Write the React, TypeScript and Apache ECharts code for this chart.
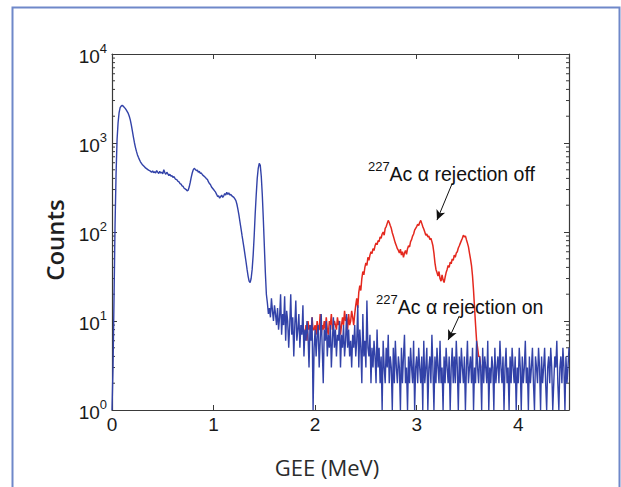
import React, { useEffect, useRef } from "react";
import * as echarts from "echarts";

// Energy binning (MeV)
const BIN = 0.01;
const blueLowStart = 0.0;
const blueTailStart = 1.53;
const redStart = 1.9;

// 227Ac alpha rejection ON (blue) – low-energy part, 0.00–1.52 MeV
const blueLow = [
  1, 3, 18, 120, 450, 1100, 1700, 2200, 2500, 2600,
  2650, 2600, 2520, 2450, 2350, 2250, 2150, 2000, 1820, 1600,
  1380, 1180, 1020, 900, 810, 740, 690, 650, 615, 590,
  570, 555, 540, 525, 515, 505, 495, 490, 480, 470,
  485, 465, 475, 460, 490, 470, 455, 480, 460, 470,
  450, 500, 465, 445, 470, 450, 430, 445, 425, 430,
  410, 420, 400, 390, 385, 370, 365, 350, 345, 330,
  325, 310, 305, 300, 290, 295, 320, 360, 410, 460,
  500, 520, 505, 490, 495, 470, 480, 455, 460, 440,
  430, 420, 410, 395, 390, 365, 350, 340, 320, 310,
  300, 290, 280, 265, 250, 255, 240, 250, 260, 245,
  255, 270, 260, 280, 265, 275, 260, 265, 255, 250,
  245, 235, 225, 205, 180, 155, 130, 110, 92, 78,
  66, 55, 46, 38, 32, 28, 27, 30, 38, 55,
  90, 160, 260, 400, 520, 590, 560, 420, 260, 140,
  70, 35, 20,
];

// 227Ac alpha rejection ON (blue) – noisy tail, 1.53–4.50 MeV
const blueTail = [
  16, 12, 14, 11, 18, 13, 10, 15, 12, 9,
  14, 8, 11, 20, 7, 12, 9, 19, 6, 13,
  10, 5, 9, 20, 7, 11, 4, 9, 17, 6,
  8, 12, 5, 9, 7, 15, 4, 8, 6, 10,
  7, 3, 9, 6, 11, 1, 5, 8, 4, 7,
  9, 3, 6, 12, 5, 2, 8, 6, 10, 4,
  7, 5, 9, 3, 6, 11, 5, 8, 4, 7,
  6, 10, 3, 7, 5, 9, 4, 6, 12, 5,
  8, 4, 6, 3, 7, 5, 9, 4, 6, 15,
  3, 8, 5, 2, 12, 4, 6, 3, 17, 5,
  4, 7, 2, 5, 3, 6, 4, 2, 8, 3,
  5, 2, 4, 1, 6, 3, 2, 5, 3, 7,
  2, 4, 3, 1, 5, 2, 6, 3, 2, 4,
  3, 1, 5, 2, 4, 7, 2, 3, 1, 4,
  2, 5, 3, 2, 6, 1, 3, 4, 2, 5,
  3, 2, 4, 1, 6, 2, 3, 5, 1, 3,
  4, 2, 7, 3, 1, 4, 2, 5, 3, 2,
  6, 2, 3, 1, 4, 2, 5, 3, 2, 4,
  1, 3, 5, 2, 4, 2, 6, 3, 1, 4,
  2, 5, 3, 2, 4, 1, 3, 6, 2, 3,
  4, 2, 5, 1, 3, 2, 6, 3, 2, 4,
  3, 1, 5, 2, 4, 3, 2, 6, 1, 3,
  2, 4, 3, 1, 5, 2, 3, 4, 2, 6,
  3, 2, 4, 1, 3, 5, 2, 3, 1, 4,
  2, 5, 3, 2, 4, 1, 3, 2, 5, 3,
  1, 4, 2, 3, 6, 2, 3, 1, 4, 2,
  3, 5, 2, 1, 4, 3, 2, 5, 3, 1,
  4, 2, 3, 5, 2, 1, 3, 4, 2, 5,
  3, 1, 2, 4, 3, 6, 2, 1, 3, 4,
  2, 5, 3, 1, 4, 2, 3, 5,
];

// 227Ac alpha rejection OFF (red), 1.90–3.63 MeV
const redOff = [
  7, 9, 6, 10, 8, 9, 7, 11, 8, 8,
  9, 7, 10, 8, 8, 12, 7, 9, 8, 10,
  8, 11, 8, 7, 10, 9, 12, 8, 9, 10,
  9, 8, 11, 9, 10, 7, 9, 11, 9, 13,
  10, 11, 8, 12, 9, 10, 13, 11, 9, 12,
  15, 18, 14, 21, 25, 22, 30, 36, 33, 40,
  45, 42, 52, 48, 55, 60, 57, 65, 62, 70,
  75, 72, 80, 78, 88, 85, 95, 100, 92, 110,
  115, 125, 135, 128, 118, 110, 98, 90, 82, 75,
  70, 65, 62, 58, 64, 55, 60, 52, 58, 62,
  56, 65, 70, 68, 78, 82, 90, 95, 105, 110,
  115, 122, 118, 128, 135, 125, 115, 108, 100, 92,
  95, 88, 90, 82, 85, 78, 70, 58, 45, 38,
  35, 32, 36, 30, 28, 33, 29, 27, 31, 35,
  38, 42, 40, 46, 44, 50, 48, 55, 52, 58,
  60, 66, 70, 75, 80, 85, 92, 88, 90, 82,
  75, 68, 58, 50, 42, 32, 22, 14, 9, 6,
  5, 4, 4, 3,
];

const xTicks = [0, 1, 2, 3, 4];
const decades = [1, 10, 100, 1000];
const minorMultipliers = [2, 3, 4, 5, 6, 7, 8, 9];

const toPairs = (start: number, vals: number[]) =>
  vals.map((v, i) => [+(start + i * BIN).toFixed(2), v]);

const FONT = "'Liberation Sans', Arial, sans-serif";

export default function App() {
  const ref = useRef<HTMLDivElement>(null);

  useEffect(() => {
    document.body.style.margin = "0";
    const chart = echarts.init(ref.current!, undefined, { renderer: "svg" });
    const blueData = [...toPairs(blueLowStart, blueLow), ...toPairs(blueTailStart, blueTail)];
    const redData = toPairs(redStart, redOff);
    const minorData: number[][] = [];
    decades.forEach((d) => minorMultipliers.forEach((m) => minorData.push([0, d * m])));

    const axisColor = "#3a3a3a";
    const yLabelRich = {
      b: { fontSize: 19, fontFamily: FONT, color: "#1a1a1a", lineHeight: 24, verticalAlign: "bottom" },
      e: { fontSize: 13, fontFamily: FONT, color: "#1a1a1a", lineHeight: 24, verticalAlign: "top" },
    };
    const annRich = {
      s: { fontSize: 13, fontFamily: FONT, color: "#111", lineHeight: 24, verticalAlign: "top" },
      t: { fontSize: 19.5, fontFamily: FONT, color: "#111", lineHeight: 24, verticalAlign: "bottom" },
    };

    chart.setOption({
      animation: false,
      backgroundColor: "#ffffff",
      grid: { left: 112, right: 52, top: 54, bottom: 77, containLabel: false },
      graphic: [
        {
          type: "rect",
          shape: { x: 12.5, y: 7.5, width: 607, height: 500 },
          style: { fill: "none", stroke: "#6f88c9", lineWidth: 2 },
          silent: true,
          z: 0,
        },
      ],
      xAxis: [
        {
          type: "value",
          min: 0,
          max: 4.5,
          interval: 1,
          position: "bottom",
          name: "GEE (MeV)",
          nameLocation: "middle",
          nameGap: 46,
          nameTextStyle: {
            fontFamily: "'Open Sans', sans-serif",
            fontSize: 22,
            color: "#2b2b2b",
            padding: [0, 27, 0, 0],
          },
          axisLine: { show: true, onZero: false, lineStyle: { color: axisColor, width: 1.2 } },
          axisTick: { show: true, inside: true, length: 5, lineStyle: { color: axisColor } },
          axisLabel: {
            fontFamily: FONT,
            fontSize: 19,
            color: "#1a1a1a",
            margin: 5,
            formatter: (v: number) => (xTicks.includes(v) ? String(v) : ""),
          },
          splitLine: { show: false },
        },
        {
          type: "value",
          min: 0,
          max: 4.5,
          interval: 1,
          position: "top",
          axisLine: { show: true, onZero: false, lineStyle: { color: axisColor, width: 1.2 } },
          axisTick: { show: true, inside: true, length: 5, lineStyle: { color: axisColor } },
          axisLabel: { show: false },
          splitLine: { show: false },
        },
      ],
      yAxis: [
        {
          type: "log",
          logBase: 10,
          min: 1,
          max: 10000,
          position: "left",
          name: "Counts",
          nameLocation: "middle",
          nameGap: 46,
          nameRotate: 90,
          nameTextStyle: {
            fontFamily: "'Open Sans', sans-serif",
            fontWeight: 600,
            fontSize: 24,
            color: "#1f1f1f",
            padding: [0, 16, 0, 0],
          },
          axisLine: { show: true, onZero: false, lineStyle: { color: axisColor, width: 1.2 } },
          axisTick: { show: true, inside: true, length: 5, lineStyle: { color: axisColor } },
          axisLabel: {
            margin: 5,
            formatter: (v: number) => `{b|10}{e|${Math.round(Math.log10(v))}}`,
            rich: yLabelRich,
          },
          splitLine: { show: false },
        },
        {
          type: "log",
          logBase: 10,
          min: 1,
          max: 10000,
          position: "right",
          axisLine: { show: true, onZero: false, lineStyle: { color: axisColor, width: 1.2 } },
          axisTick: { show: true, inside: true, length: 5, lineStyle: { color: axisColor } },
          axisLabel: { show: false },
          splitLine: { show: false },
        },
      ],
      series: [
        {
          type: "custom",
          name: "minorTicks",
          xAxisIndex: 0,
          yAxisIndex: 0,
          silent: true,
          clip: false,
          data: minorData,
          renderItem: (_p: any, api: any) => {
            const v = api.value(1);
            const l = api.coord([0, v]);
            const r = api.coord([4.5, v]);
            return {
              type: "group",
              children: [
                { type: "line", shape: { x1: l[0], y1: l[1], x2: l[0] + 3, y2: l[1] }, style: { stroke: axisColor, lineWidth: 1 } },
                { type: "line", shape: { x1: r[0] - 3, y1: r[1], x2: r[0], y2: r[1] }, style: { stroke: axisColor, lineWidth: 1 } },
              ],
            };
          },
          z: 1,
        },
        {
          type: "line",
          name: "227Ac α rejection off",
          data: redData,
          showSymbol: false,
          symbol: "none",
          lineStyle: { color: "#e4281e", width: 1.5 },
          itemStyle: { color: "#e4281e" },
          z: 2,
          markPoint: {
            symbol: "circle",
            symbolSize: 0,
            silent: true,
            label: {
              show: true,
              position: "right",
              distance: 0,
              formatter: "{s|227}{t|Ac α rejection off}",
              rich: annRich,
            },
            data: [{ coord: [2.52, 470] }],
          },
          markLine: {
            silent: true,
            symbol: ["none", "arrow"],
            symbolSize: [7, 10],
            lineStyle: { color: "#111", width: 1, type: "solid" },
            label: { show: false },
            data: [[{ coord: [3.35, 352] }, { coord: [3.2, 136] }]],
          },
        },
        {
          type: "line",
          name: "227Ac α rejection on",
          data: blueData,
          showSymbol: false,
          symbol: "none",
          lineStyle: { color: "#3242a8", width: 1.4 },
          itemStyle: { color: "#3242a8" },
          z: 3,
          markPoint: {
            symbol: "circle",
            symbolSize: 0,
            silent: true,
            label: {
              show: true,
              position: "right",
              distance: 0,
              formatter: "{s|227}{t|Ac α rejection on}",
              rich: annRich,
            },
            data: [{ coord: [2.6, 15] }],
          },
          markLine: {
            silent: true,
            symbol: ["none", "arrow"],
            symbolSize: [7, 10],
            lineStyle: { color: "#111", width: 1, type: "solid" },
            label: { show: false },
            data: [[{ coord: [3.42, 11.4] }, { coord: [3.31, 6.1] }]],
          },
        },
      ],
    });
    return () => chart.dispose();
  }, []);

  return (
    <div
      ref={ref}
      style={{ position: "fixed", left: 0, top: 0, width: 621, height: 487, background: "#fff" }}
    />
  );
}
